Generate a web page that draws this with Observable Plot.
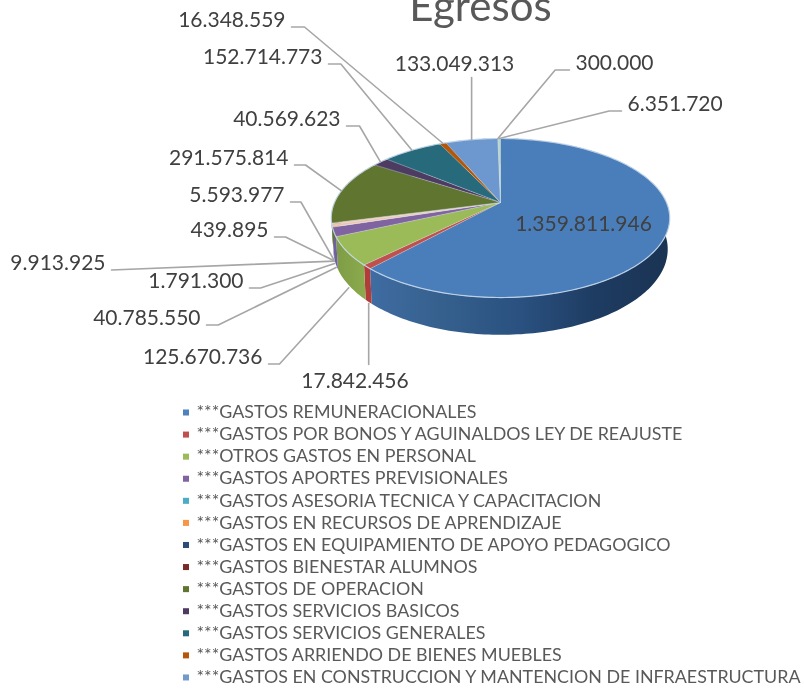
<!DOCTYPE html>
<html><head><meta charset="utf-8">
<script src="https://cdn.jsdelivr.net/npm/d3@7"></script>
<script src="https://cdn.jsdelivr.net/npm/@observablehq/plot@0.6"></script>
<style>html,body{margin:0;padding:0;background:#fff;overflow:hidden}svg{filter:blur(0.45px)}</style>
</head><body>
<div id="chart"></div>
<script>
const title = "Egresos";
const values = [1359811946,17842456,125670736,40785550,1791300,9913925,439895,5593977,291575814,40569623,152714773,16348559,133049313,300000,6351720];
const legendNames = [
 "***GASTOS REMUNERACIONALES","***GASTOS POR BONOS Y AGUINALDOS LEY DE REAJUSTE","***OTROS GASTOS EN PERSONAL",
 "***GASTOS APORTES PREVISIONALES","***GASTOS ASESORIA TECNICA Y CAPACITACION","***GASTOS EN RECURSOS DE APRENDIZAJE",
 "***GASTOS EN EQUIPAMIENTO DE APOYO PEDAGOGICO","***GASTOS BIENESTAR ALUMNOS","***GASTOS DE OPERACION",
 "***GASTOS SERVICIOS BASICOS","***GASTOS SERVICIOS GENERALES","***GASTOS ARRIENDO DE BIENES MUEBLES",
 "***GASTOS EN CONSTRUCCION Y MANTENCION DE INFRAESTRUCTURA"];
const legendColors = ["#4f81bd","#c0504d","#9bbb59","#8064a2","#4bacc6","#f79646","#2c4d75","#772c2a","#5f7530","#4d3b62","#276a7c","#b65708","#729aca"];
const colors = ["#4a7ebb","#c0504d","#9bbb59","#8064a2","#f3c3ab","#f3c3ab","#f3c3ab","#f3c3ab","#5f7530","#4d3b62","#276a7c","#b65708","#6c98cf","#cd7371","#b9d6cc"];
const sideColors = ["url(#sideBlue)","#b13c3a","url(#sideGreen)","#7060a0","#7060a0","#7060a0","#7060a0","#7060a0","#5f7530","#4d3b62","#276a7c","#b65708","#6c98cf","#cd7371","#b9d6cc"];

// Label placement (label x, label y, anchor, elbow length, height on the pie's side)
const labelLayout = [
 null,
 {x:354.5,y:381,a:"middle",elbow:0,h:1.05,vy:364},
 {x:262,y:357,a:"end",elbow:17,h:1.08},
 {x:200,y:318,a:"end",elbow:18,h:1.1},
 {x:243,y:281,a:"end",elbow:17,h:1.15},
 {x:105,y:263,a:"end",elbow:0,h:1.12},
 {x:268,y:230,a:"end",elbow:17,h:1.15},
 {x:284,y:195,a:"end",elbow:16,h:1.15},
 {x:288,y:158,a:"end",elbow:17,h:0},
 {x:340,y:119,a:"end",elbow:20,h:0},
 {x:322,y:57,a:"end",elbow:19,h:0},
 {x:285,y:20,a:"end",elbow:20,h:0},
 {x:454,y:64,a:"middle",elbow:0,h:0,vy:77},
 {x:575,y:63,a:"start",elbow:-22,h:0},
 {x:627,y:104,a:"start",elbow:-19,h:0}
];
const W = 804, H = 689;
const cx = 500, cy = 202, R = 166, A = 76.5, k = 0.195, D = 30;
const fmt = d3.formatLocale({decimal:",",thousands:".",grouping:[3],currency:["",""]}).format(",d");

function project(t, h = 0) {
  const X = Math.sin(t), Z = Math.cos(t), w = 1 + k * Z;
  return {x: cx + R * X / w * (1 - 0.012 * h), y: cy - A * Z / w + D * h / w};
}
const arcs = d3.pie().sort(null).value(d => d)(values);
function sample(a) {
  const n = Math.max(2, Math.ceil((a.endAngle - a.startAngle) / 0.02));
  return d3.range(n + 1).map(j => a.startAngle + (a.endAngle - a.startAngle) * j / n);
}
const topRows = [], sideRows = [], rimRows = [];
arcs.forEach((a, i) => {
  const ts = sample(a);
  topRows.push({i, c: colors[i], x: cx, y: cy});
  ts.forEach(t => topRows.push({i, c: colors[i], ...project(t)}));
  ts.forEach(t => sideRows.push({i, ...project(t)}));
  ts.slice().reverse().forEach(t => sideRows.push({i, ...project(t, 1)}));
  ts.forEach(t => rimRows.push({i, ...project(t)}));
});

const leaderRows = [], labelRows = [];
arcs.forEach((a, i) => {
  const L = labelLayout[i];
  if (!L) return;
  labelRows.push({x: L.x, y: L.y, a: L.a, text: fmt(values[i])});
  const p = project((a.startAngle + a.endAngle) / 2, L.h);
  const ly = L.y + 6.5;
  if (L.vy !== undefined) {
    leaderRows.push({i, x: p.x, y: p.y}, {i, x: p.x, y: L.vy});
  } else {
    const dir = L.a === "end" ? 1 : -1;
    const x0 = L.x + dir * 6;
    leaderRows.push({i, x: x0, y: ly});
    if (L.elbow) leaderRows.push({i, x: x0 + dir * Math.abs(L.elbow) * 0.65, y: ly});
    leaderRows.push({i, x: p.x, y: p.y});
  }
});
const legendRows = legendNames.map((name, i) => ({name, c: legendColors[i], y: 412 + i * 22.08}));

const sideMark = i => Plot.line(sideRows.filter(d => d.i === i), {x:"x", y:"y", fill: sideColors[i], stroke:"none", curve:"linear"});
const labelMark = a => Plot.text(labelRows.filter(d => d.a === a), {x:"x", y:"y", text:"text", textAnchor:a, fontSize:21, fill:"#404040"});

const svg = Plot.plot({
  width: W, height: H, margin: 0,
  x: {axis:null, domain:[0,W], range:[0,W]},
  y: {axis:null, domain:[0,H], range:[0,H]},
  style: {fontFamily:"Lato", background:"#fff"},
  marks: [
    Plot.text([title], {x:()=>480, y:()=>7, text:d=>d, fontSize:42, fill:"#595959", textAnchor:"middle"}),
    ...arcs.map((a,i)=>sideMark(i)),
    Plot.line(topRows, {x:"x", y:"y", z:"i", fill:"c", stroke:"#d5dfe8", strokeWidth:0.7, strokeOpacity:0.55, curve:"linear"}),
    Plot.line(rimRows, {x:"x", y:"y", z:"i", stroke:"#c6d8ec", strokeWidth:1.2, strokeOpacity:0.8, curve:"linear"}),
    Plot.line(leaderRows, {x:"x", y:"y", z:"i", stroke:"#a6a6a6", strokeWidth:1.6, curve:"linear"}),
    labelMark("end"), labelMark("middle"), labelMark("start"),
    Plot.text([fmt(values[0])], {x:()=>583, y:()=>224, text:d=>d, textAnchor:"middle", fontSize:21, fill:"#404040"}),
    Plot.dot(legendRows, {x:()=>185.5, y:"y", symbol:"square", r:3.4, fill:"c", stroke:"none"}),
    Plot.text(legendRows, {x:()=>196, y:"y", text:"name", textAnchor:"start", fontSize:17.85, fill:"#595959"})
  ]
});
const defs = d3.select(svg).insert("defs", ":first-child");
const grad = (id, stops) => {
  const g = defs.append("linearGradient").attr("id", id).attr("x1",0).attr("x2",1).attr("y1",0).attr("y2",0);
  stops.forEach(([o,c]) => g.append("stop").attr("offset",o).attr("stop-color",c));
};
grad("sideBlue", [[0,"#3f6ca2"],[0.22,"#36618f"],[0.5,"#2a5180"],[0.75,"#1e3c62"],[1,"#1a3353"]]);
grad("sideGreen", [[0,"#7d9c45"],[1,"#8cab4e"]]);
document.getElementById("chart").append(svg);
</script>
</body></html>
